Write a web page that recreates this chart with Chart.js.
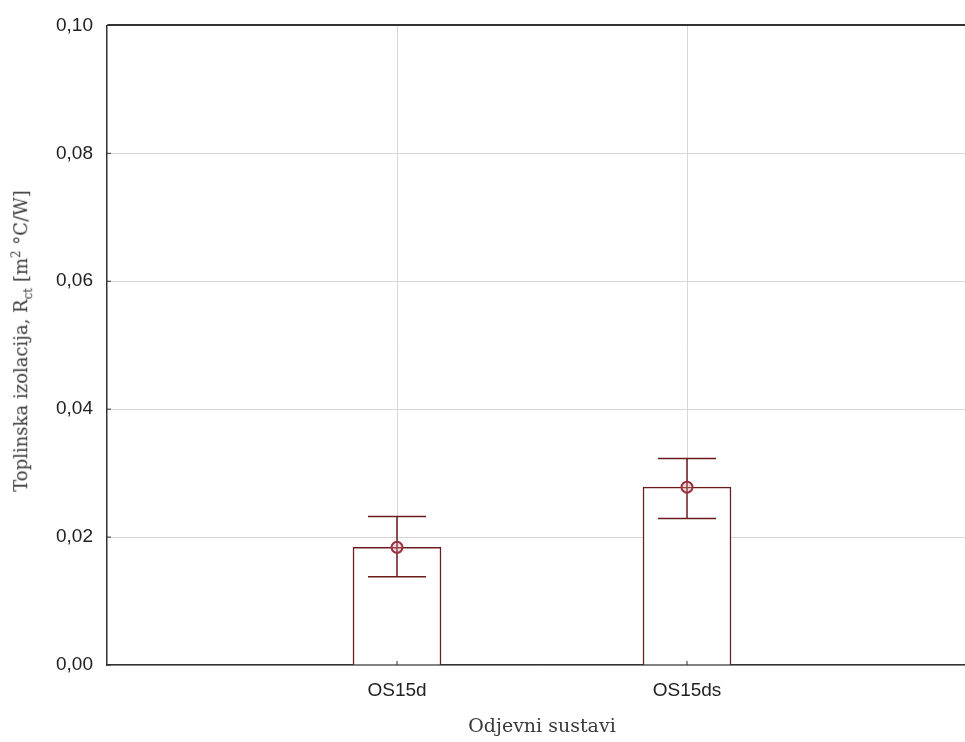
<!DOCTYPE html>
<html>
<head>
<meta charset="utf-8">
<script src="https://cdn.jsdelivr.net/npm/chart.js@4"></script>
<style>
  html, body { margin: 0; padding: 0; background: #fff; overflow: hidden; }
  #wrap { position: relative; width: 991px; height: 742px; }
  #ytitle {
    position: absolute; left: 22px; top: 341px;
    transform: translate(-50%, -50%) rotate(-90deg);
    white-space: nowrap; font-family: "DejaVu Serif", serif; font-size: 18px; color: #3a3a3a;
  }
  #ytitle sub, #ytitle sup { font-size: 12px; }
</style>
</head>
<body>
<div id="wrap">
  <canvas id="myChart" width="991" height="742"></canvas>
  <div id="ytitle">Toplinska izolacija, R<sub>ct</sub> [m<sup>2</sup> °C/W]</div>
</div>
<script>
const categories = ["OS15d", "OS15ds"];
const meanValues = [0.0184, 0.0278];
const lowerValues = [0.0138, 0.0229];
const upperValues = [0.0232, 0.0323];
const yTicks = [0, 0.02, 0.04, 0.06, 0.08, 0.1];

const barColor = "#6a1c1c";
const axisColor = "#333";
const gridColor = "#d6d6d6";

// empty slot on each side so the two systems sit at 1/3 and 2/3
const labels = ["", ...categories, ""];
const pad = (arr) => [null, ...arr, null];

const errorBars = {
  id: "errorBars",
  afterDatasetDraw(chart, args) {
    if (args.index !== 0) return;
    const { ctx, scales: { x, y } } = chart;
    ctx.save();
    ctx.strokeStyle = barColor;
    ctx.lineWidth = 1.5;
    categories.forEach((c, i) => {
      const px = x.getPixelForValue(i + 1);
      const top = y.getPixelForValue(upperValues[i]);
      const bot = y.getPixelForValue(lowerValues[i]);
      ctx.beginPath();
      ctx.moveTo(px, top); ctx.lineTo(px, bot);
      ctx.moveTo(px - 29, top); ctx.lineTo(px + 29, top);
      ctx.moveTo(px - 29, bot); ctx.lineTo(px + 29, bot);
      ctx.stroke();
    });
    ctx.restore();
  }
};

const inwardTicks = {
  id: "inwardTicks",
  afterDraw(chart) {
    const { ctx, chartArea, scales: { x, y } } = chart;
    ctx.save();
    ctx.strokeStyle = axisColor;
    ctx.lineWidth = 1;
    ctx.beginPath();
    y.ticks.forEach((t, i) => {
      const py = y.getPixelForTick(i);
      ctx.moveTo(chartArea.left, py);
      ctx.lineTo(chartArea.left + 4, py);
    });
    categories.forEach((c, i) => {
      const px = x.getPixelForValue(i + 1);
      ctx.moveTo(px, chartArea.bottom);
      ctx.lineTo(px, chartArea.bottom - 4);
    });
    ctx.stroke();
    ctx.restore();
  }
};

const ctx = document.getElementById("myChart");
new Chart(ctx, {
  type: "bar",
  data: {
    labels: labels,
    datasets: [
      {
        label: "Rct",
        data: pad(meanValues),
        backgroundColor: "#ffffff",
        borderColor: barColor,
        borderWidth: 1.5,
        barThickness: 88,
        order: 2,
      },
      {
        type: "line",
        label: "mean",
        data: pad(meanValues),
        showLine: false,
        pointRadius: 5.5,
        pointBorderWidth: 2,
        pointBorderColor: "#9b3040",
        pointBackgroundColor: "rgba(220, 150, 160, 0.35)",
        order: 1,
      },
    ],
  },
  options: {
    responsive: false,
    animation: false,
    layout: { autoPadding: false, padding: { top: 25, right: 0, left: 0, bottom: 0 } },
    plugins: {
      legend: { display: false },
      tooltip: { enabled: false },
    },
    scales: {
      x: {
        offset: false,
        grid: {
          offset: false,
          drawTicks: false,
          color: (c) => (c.index === 0 ? "rgba(0,0,0,0)" : gridColor),
        },
        border: { display: true, color: axisColor, width: 1.5 },
        ticks: {
          padding: 14,
          color: "#222",
          font: { family: "Liberation Sans", size: 19 },
        },
        title: {
          display: true,
          text: "Odjevni sustavi",
          color: "#3a3a3a",
          font: { family: "DejaVu Serif", size: 19 },
          padding: { top: 0, bottom: 4 },
        },
        afterFit: (scale) => { scale.height = 77; },
      },
      y: {
        min: 0,
        max: 0.1,
        afterBuildTicks: (scale) => { scale.ticks = yTicks.map((v) => ({ value: v })); },
        grid: {
          drawTicks: false,
          color: (c) => (c.tick && c.tick.value === 0.1 ? axisColor : gridColor),
          lineWidth: (c) => (c.tick && c.tick.value === 0.1 ? 2 : 1),
        },
        border: { display: true, color: axisColor, width: 1.5 },
        ticks: {
          padding: 14,
          color: "#222",
          font: { family: "Liberation Sans", size: 19 },
          callback: (v) => v.toFixed(2).replace(".", ","),
        },
        afterFit: (scale) => { scale.width = 107; },
      },
    },
  },
  plugins: [errorBars, inwardTicks],
});
</script>
</body>
</html>
